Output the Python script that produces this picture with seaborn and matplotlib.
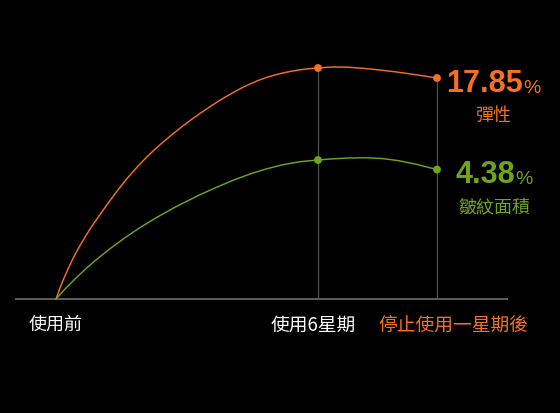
import pandas as pd
import numpy as np
import matplotlib
matplotlib.use("Agg")
import matplotlib.pyplot as plt
import seaborn as sns

# curve samples (x: chart units from start, y: height above baseline)
elastic_x = [0, 4, 8, 12.3, 17, 22.3, 30, 36, 42.3, 49, 60.7, 72, 81, 90.5, 99, 107.3,
             116, 125, 134.5, 144, 152, 160.7, 169, 177.3, 185.6, 194, 202.3, 210.7,
             219, 227.3, 235.6, 244, 253, 262,
             275.7, 292.3, 309, 325.7, 342.3, 359, 381]
elastic_y = [0, 11, 21, 30.5, 40.5, 50.5, 63.5, 73, 82, 91.5, 107.5, 121.6, 131.8, 141.7,
             149.8, 157.1, 164.4, 171.6, 178.8, 185.6, 191.0, 196.7, 201.8, 206.5, 211,
             215, 218.6, 221.6, 224.1, 226.1, 227.8, 229.2, 230.3, 231,
             232, 231.8, 230.5, 228.8, 226.8, 224.4, 221]
wrinkle_x = [0, 9, 19, 29.5, 41, 53.5, 67.3, 82, 99, 119, 144, 160.7, 177.3, 194,
             210.7, 227.3, 244, 262, 275.7, 292.3, 309, 325.7, 342.3, 359, 381]
wrinkle_y = [0, 10, 20, 29.9, 39.9, 49.9, 60.1, 70.1, 80.6, 91.8, 104.3, 111.8, 118.8, 125,
             130.2, 134.4, 137.3, 139, 140.1, 141, 141.3, 140.5, 138.4, 135, 129.5]

# stages on the x axis
stage_x = [0, 262, 381]
stage_labels = ["使用前", "使用6星期", "停止使用一星期後"]

# key points (6 weeks, 1 week after stopping)
key_x = [262, 381]
elastic_key = [231, 221]
wrinkle_key = [139, 129.5]

elastic_value = "17.85"
wrinkle_value = "4.38"
elastic_name = "彈性"
wrinkle_name = "皺紋面積"

ORANGE = "#f7701f"
GREEN = "#6ea51f"
CJK = ["Noto Sans CJK TC", "DejaVu Sans"]
LATIN = ["Liberation Sans", "DejaVu Sans"]

sns.set_theme(style="dark")
plt.rcParams["font.family"] = CJK

df = pd.concat([
    pd.DataFrame({"x": elastic_x, "y": elastic_y, "series": elastic_name}),
    pd.DataFrame({"x": wrinkle_x, "y": wrinkle_y, "series": wrinkle_name}),
])
keys = pd.concat([
    pd.DataFrame({"x": key_x, "y": elastic_key, "series": elastic_name}),
    pd.DataFrame({"x": key_x, "y": wrinkle_key, "series": wrinkle_name}),
])
palette = {elastic_name: ORANGE, wrinkle_name: GREEN}

fig = plt.figure(figsize=(5.6, 4.14), dpi=100, facecolor="black")
ax = fig.add_axes([0, 0, 1, 1])
ax.set_facecolor("black")

# baseline and guide lines
ax.hlines(0, -41, 452, color="#6e6e6e", linewidth=1.2, zorder=1)
ax.vlines(key_x, 0, elastic_key, color="#505050", linewidth=0.9, zorder=1)

sns.lineplot(data=df, x="x", y="y", hue="series", palette=palette,
             sort=False, estimator=None, linewidth=1.05, legend=False, ax=ax, zorder=2)
sns.scatterplot(data=keys, x="x", y="y", hue="series", palette=palette,
                s=32, linewidth=0, legend=False, ax=ax, zorder=3)

ax.set_xlim(-56, 504)
ax.set_ylim(-114, 300)
ax.set_xlabel("")
ax.set_ylabel("")
ax.set_xticks([])
ax.set_yticks([])
ax.grid(False)
for s in ax.spines.values():
    s.set_visible(False)

# stage labels under the axis
label_pos = [0, 257.5, 397.5]
label_col = ["white", "white", ORANGE]
label_size = [13, 13.5, 13.5]
for xp, lab, c, fs in zip(label_pos, stage_labels, label_col, label_size):
    ax.text(xp, -25, lab, ha="center", va="center", color=c, fontsize=fs)


def value_label(xc, y_base, value, name, color):
    t = ax.text(xc - 9, y_base, value, ha="center", va="baseline", color=color,
                fontsize=22, fontweight="bold", family=LATIN)
    ax.annotate("%", xy=(1, 0), xycoords=t, xytext=(0, 1.5), textcoords="offset points",
                ha="left", va="bottom", color=color, fontsize=14, family=LATIN)
    ax.text(xc, y_base - 24, name, ha="center", va="center", color=color, fontsize=13)


value_label(438, 208, elastic_value, elastic_name, ORANGE)
value_label(438, 117, wrinkle_value, wrinkle_name, GREEN)

fig.savefig("out.png", dpi=100, facecolor="black")
